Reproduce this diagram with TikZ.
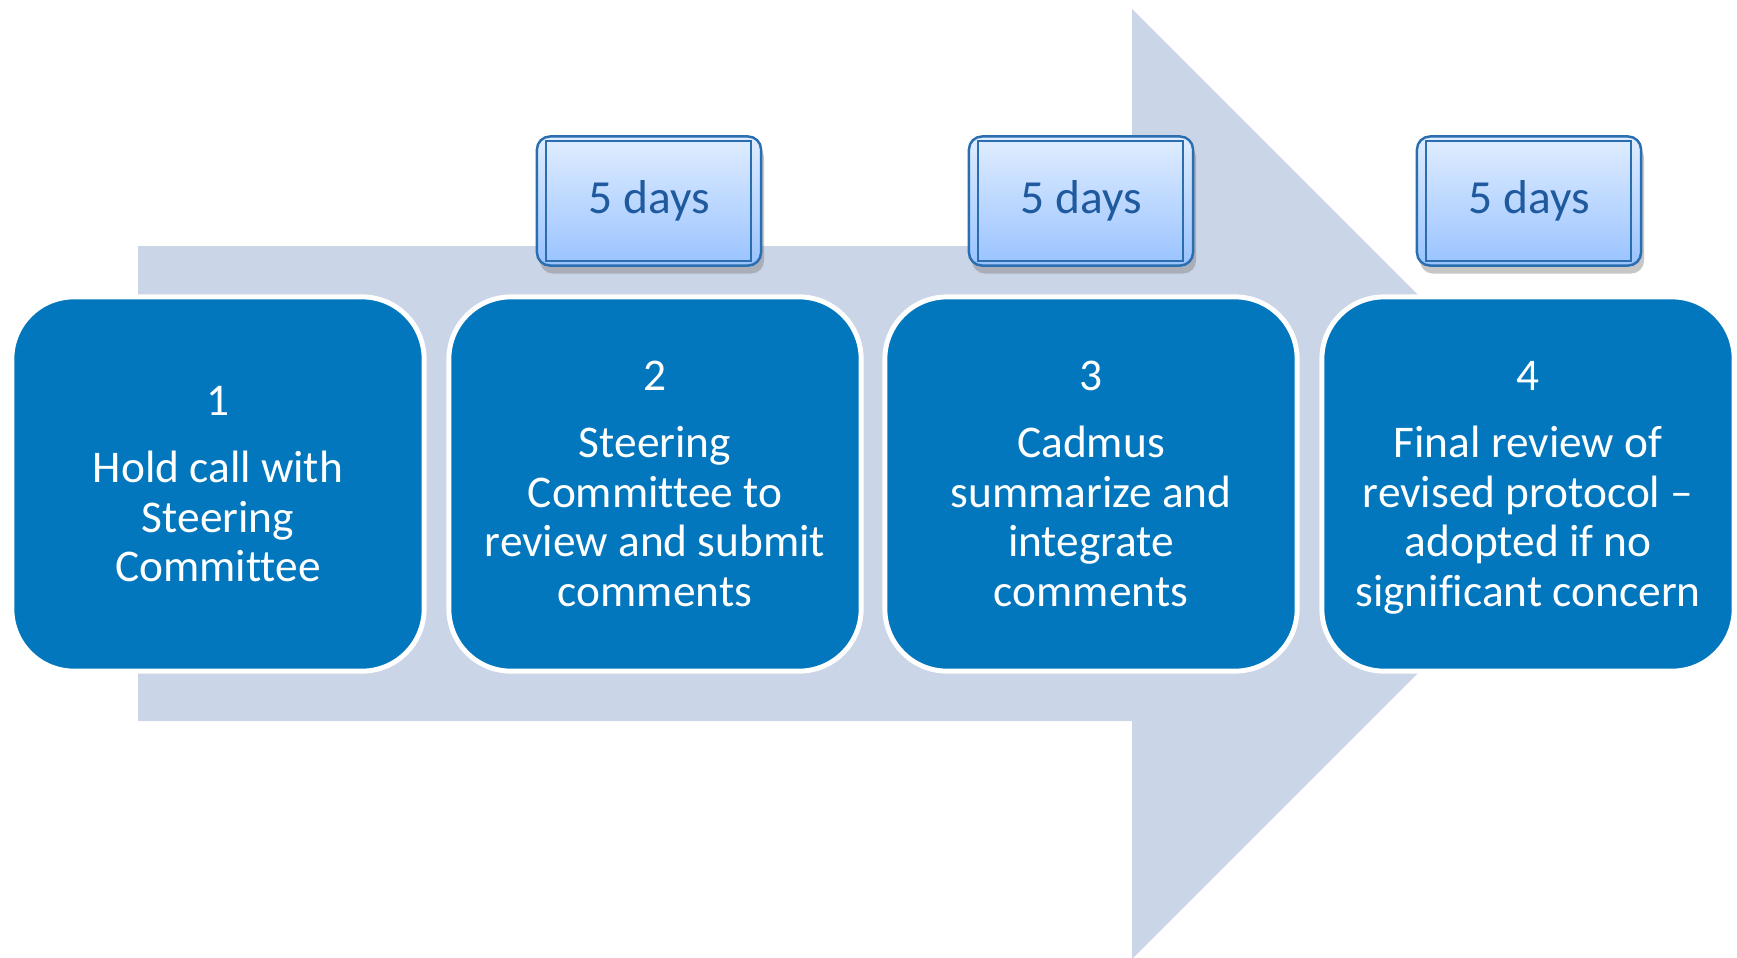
\documentclass[tikz,border=0pt]{standalone}
\usepackage{fontspec}
\setmainfont{Carlito}[Ligatures=NoCommon]
\usetikzlibrary{shadows}
\definecolor{stepblue}{HTML}{0277BD}
\definecolor{arrowgray}{HTML}{CBD5E8}
\definecolor{daysline}{HTML}{2A6EB0}
\definecolor{daystext}{HTML}{1F5A9E}
\definecolor{daystop}{HTML}{E0EDFF}
\definecolor{daysbottom}{HTML}{99C3FF}

\begin{document}
\begin{tikzpicture}[x=0.01cm,y=-0.01cm,
    stepbox/.style={rectangle,rounded corners=0.62cm,fill=stepblue,draw=white,
      line width=1.4pt,minimum width=4.12cm,minimum height=3.74cm,text=white,
      align=center,inner sep=0pt,font=\fontsize{12.9}{14.1}\selectfont},
    daysbox/.style={rectangle,rounded corners=0.13cm,top color=daystop,
      bottom color=daysbottom,draw=daysline,line width=0.7pt,minimum width=2.24cm,
      minimum height=1.29cm,text=daystext,font=\fontsize{13.5}{16}\selectfont,
      drop shadow={shadow xshift=0.3mm,shadow yshift=-0.8mm,opacity=0.45}},
    inner/.style={draw=daysline,line width=0.5pt}]
    \useasboundingbox (0,0) rectangle (1737,957);
    % big arrow behind the steps
    \fill[arrowgray] (138,246) -- (1132,246) -- (1132,9) -- (1607,484)
      -- (1132,959) -- (1132,721) -- (138,721) -- cycle;
    % steps
    \node[stepbox] (step1) at (218,484) {1\\[5pt]Hold call with\\Steering\\Committee};
    \node[stepbox] (step2) at (655,484) {2\\[5pt]Steering\\Committee to\\review and submit\\comments};
    \node[stepbox] (step3) at (1091,484) {3\\[5pt]Cadmus\\summarize and\\integrate\\comments};
    \node[stepbox] (step4) at (1528,484) {4\\[5pt]Final review of\\revised protocol --\\adopted if no\\\raisebox{0pt}[\height][0pt]{significant concern}};
    % durations
    \node[daysbox] (days2) at (649,201) {5 days};
    \node[daysbox] (days3) at (1081,201) {5 days};
    \node[daysbox] (days4) at (1529,201) {5 days};
    \draw[inner] ([xshift=0.1cm,yshift=-0.06cm]days2.north west) rectangle ([xshift=-0.11cm,yshift=0.06cm]days2.south east);
    \draw[inner] ([xshift=0.1cm,yshift=-0.06cm]days3.north west) rectangle ([xshift=-0.11cm,yshift=0.06cm]days3.south east);
    \draw[inner] ([xshift=0.1cm,yshift=-0.06cm]days4.north west) rectangle ([xshift=-0.11cm,yshift=0.06cm]days4.south east);
  \end{tikzpicture}
\end{document}
